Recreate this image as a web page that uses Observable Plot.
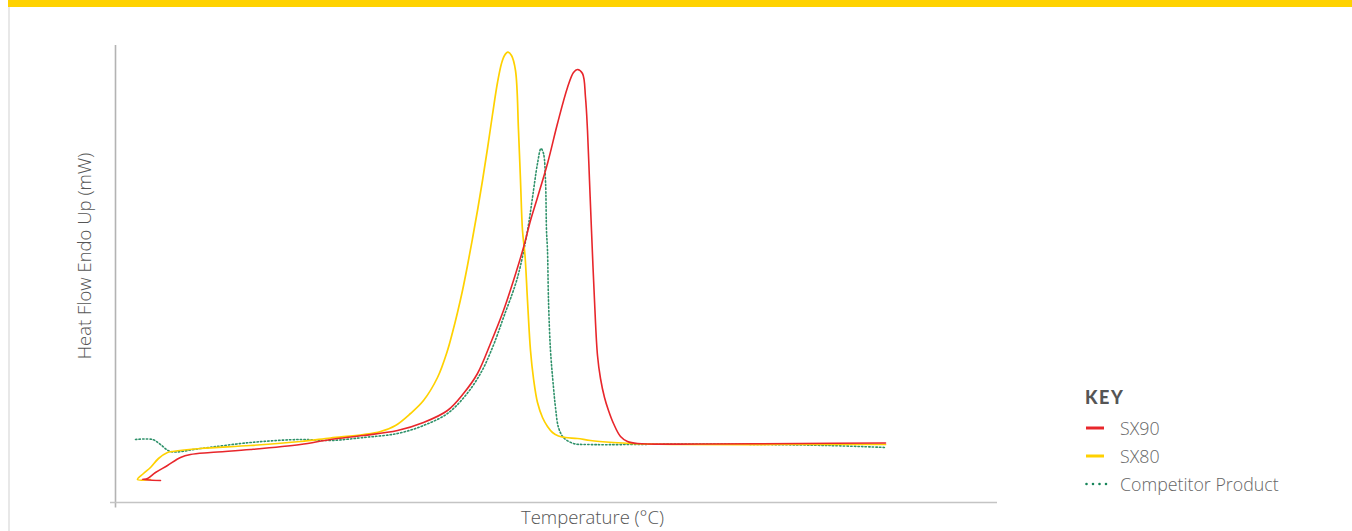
<!DOCTYPE html>
<html>
<head>
<meta charset="utf-8">
<script src="https://cdn.jsdelivr.net/npm/d3@7"></script>
<script src="https://cdn.jsdelivr.net/npm/@observablehq/plot@0.6"></script>
<style>
  html, body { margin: 0; padding: 0; background: #fff; }
  #wrap { position: relative; width: 1352px; height: 531px; overflow: hidden; font-family: "Open Sans", Lato, sans-serif; }
  #band { position: absolute; left: 8px; top: 0; width: 1344px; height: 7px; background: #FFD200; }
  #edge { position: absolute; left: 8px; top: 7px; width: 2px; height: 524px; background: #e8e8e8; }
  #chart { position: absolute; left: 0; top: 0; }
  #legend { position: absolute; left: 1085px; top: 386px; color: #666; }
  #legend .key { font-family: Lato, sans-serif; font-weight: 900; font-size: 18px; letter-spacing: 1.6px; color: #555; height: 28px; }
  #legend .row { display: flex; align-items: center; height: 28px; font-size: 17.8px; font-weight: 300; }
  #legend svg { margin-right: 12px; }
</style>
</head>
<body>
<div id="wrap">
  <div id="band"></div>
  <div id="edge"></div>
  <div id="chart"></div>
  <div id="legend"></div>
</div>
<script>
// Temperature (°C, arbitrary reading) and heat flow (mW, arbitrary reading)
const sx80T = [37.0, 34.4, 35.6, 37.0, 38.6, 40.4, 41.4, 47.0, 57.0, 67.0, 73.0, 79.6, 83.0, 86.0, 89.0, 91.6, 94.4, 96.4, 97.4, 98.4, 99.4, 100.4, 101.4, 102.4, 103.4, 104.4, 105.4, 106.4, 107.2, 107.8, 108.46, 109.2, 110.0, 110.6, 111.0, 111.4, 111.9, 112.4, 113.0, 113.6, 114.4, 115.4, 116.4, 117.4, 118.6, 120.0, 122.4, 125.0, 129.6, 133.0, 143.0, 163.0, 184.0];
const sx80H = [2.3, 2.3, 2.9, 3.5, 4.4, 5.0, 5.1, 5.4, 5.7, 6.1, 6.45, 6.8, 7.1, 7.7, 8.9, 10.2, 12.5, 15.2, 17.0, 19.0, 21.2, 23.7, 26.4, 29.2, 32.2, 35.4, 38.8, 42.0, 43.9, 44.7, 45.03, 44.7, 43.2, 37.2, 32.2, 27.2, 24.7, 20.2, 15.2, 12.4, 10.0, 8.5, 7.6, 7.0, 6.65, 6.5, 6.4, 6.2, 6.0, 5.9, 5.8, 5.8, 5.8];

const sx90T = [39.0, 35.4, 36.4, 38.0, 40.4, 43.0, 45.0, 49.0, 57.0, 67.0, 73.0, 79.6, 86.4, 91.6, 96.4, 99.6, 102.4, 105.0, 107.6, 109.6, 111.6, 113.0, 114.4, 116.4, 118.4, 120.4, 121.6, 122.4, 123.4, 124.0, 124.4, 124.8, 125.2, 125.8, 126.4, 127.0, 127.8, 128.6, 129.6, 131.0, 132.4, 134.4, 147.0, 167.0, 184.0];
const sx90H = [2.2, 2.3, 2.4, 3.0, 3.7, 4.5, 4.8, 5.0, 5.3, 5.8, 6.3, 6.7, 7.2, 8.0, 9.2, 10.9, 12.9, 15.9, 19.2, 22.2, 25.5, 28.2, 30.5, 33.9, 37.9, 41.5, 43.0, 43.3, 42.9, 40.5, 37.2, 32.2, 27.2, 20.2, 14.7, 12.4, 10.5, 9.2, 7.9, 6.6, 6.1, 5.9, 5.85, 5.9, 5.95];

const compT = [34.0, 37.4, 39.0, 41.0, 47.0, 57.0, 67.0, 73.0, 79.6, 86.4, 91.6, 96.4, 100.0, 103.0, 105.4, 107.6, 110.4, 112.4, 113.4, 114.4, 115.1, 115.6, 116.0, 116.2, 116.4, 116.6, 117.0, 117.6, 118.0, 118.6, 119.6, 121.6, 124.4, 147.0, 172.4, 184.0];
const compH = [6.3, 6.3, 5.8, 5.1, 5.4, 6.0, 6.3, 6.2, 6.5, 6.9, 7.7, 8.9, 10.7, 12.9, 15.5, 18.5, 22.5, 27.2, 30.5, 33.9, 35.4, 34.9, 32.2, 27.2, 25.2, 20.2, 15.2, 11.5, 9.5, 7.5, 6.5, 5.9, 5.8, 5.85, 5.7, 5.5];

const seriesNames = ["SX90", "SX80", "Competitor Product"];
const seriesColors = ["#E8262B", "#FFD100", "#17855A"];
const xLabel = "Temperature (°C)";
const yLabel = "Heat Flow Endo Up (mW)";
const legendTitle = "KEY";

const toRows = (T, H) => T.map((t, i) => ({t, h: H[i]}));
const sx90 = toRows(sx90T, sx90H);
const sx80 = toRows(sx80T, sx80H);
const comp = toRows(compT, compH);

const xMin = 30, xMax = 206.4, yMin = 0, yMax = 45.7;

const chart = Plot.plot({
  width: 1352,
  height: 531,
  marginLeft: 115,
  marginRight: 355,
  marginTop: 45,
  marginBottom: 29,
  x: {domain: [xMin, xMax], axis: null},
  y: {domain: [yMin, yMax], axis: null},
  style: {fontFamily: "'Open Sans', Lato, sans-serif", background: "transparent"},
  marks: [
    Plot.ruleX([xMin], {y1: yMin - 0.55, y2: yMax, stroke: "#b3b3b3", strokeWidth: 1.6}),
    Plot.ruleY([yMin], {x1: xMin - 1, x2: xMax, stroke: "#c4c4c4", strokeWidth: 1.6}),
    Plot.line(comp, {x: "t", y: "h", curve: "catmull-rom", stroke: seriesColors[2], strokeWidth: 1.6, strokeDasharray: "1.4 2.2", strokeOpacity: 0.9}),
    Plot.line(sx80, {x: "t", y: "h", curve: "catmull-rom", stroke: seriesColors[1], strokeWidth: 1.7}),
    Plot.line(sx90, {x: "t", y: "h", curve: "catmull-rom", stroke: seriesColors[0], strokeWidth: 1.6}),
    Plot.text([xLabel], {frameAnchor: "bottom", textAnchor: "middle", dy: 21, dx: 36, fontSize: 18.5, fill: "#555", fontWeight: 300}),
    Plot.text([yLabel], {frameAnchor: "left", textAnchor: "middle", rotate: -90, dx: -30, dy: -18, fontSize: 18.5, fill: "#555", fontWeight: 300})
  ]
});
document.getElementById("chart").appendChild(chart);

// Legend
const legend = document.getElementById("legend");
const key = document.createElement("div");
key.className = "key";
key.textContent = legendTitle;
legend.appendChild(key);
seriesNames.forEach((name, i) => {
  const row = document.createElement("div");
  row.className = "row";
  const dotted = i === 2;
  row.innerHTML = `<svg width="23" height="8"><line x1="${dotted ? 1.5 : 1}" y1="4" x2="${dotted ? 22 : 19}" y2="4" stroke="${seriesColors[i]}" stroke-width="${dotted ? 2.6 : 3}" ${dotted ? 'stroke-dasharray="0 6.5" stroke-linecap="round"' : ''}/></svg><span>${name}</span>`;
  legend.appendChild(row);
});
</script>
</body>
</html>
